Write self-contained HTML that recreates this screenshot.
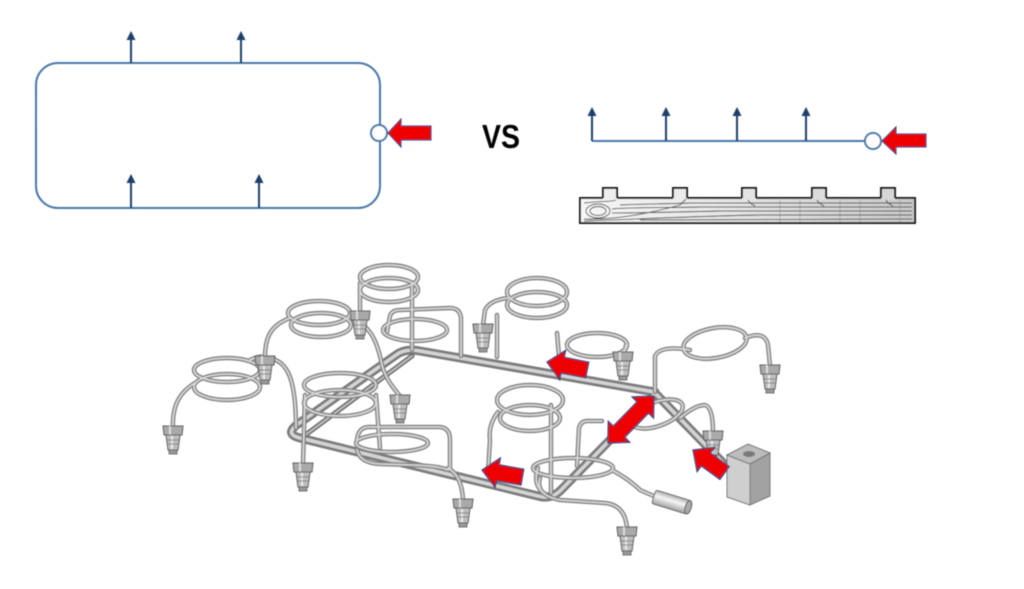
<!DOCTYPE html>
<html><head><meta charset="utf-8"><style>
html,body{margin:0;padding:0;background:#fff;}
svg{display:block;}
</style></head><body>
<svg width="1024" height="589" viewBox="0 0 1024 589" xmlns="http://www.w3.org/2000/svg">
<defs>
  <filter id="soft" x="-5%" y="-5%" width="110%" height="110%"><feGaussianBlur stdDeviation="0.6"/></filter>
  <filter id="soft2" x="-5%" y="-5%" width="110%" height="110%"><feGaussianBlur stdDeviation="0.4"/></filter>
  <linearGradient id="cs" x1="0" x2="1" y1="0" y2="0">
    <stop offset="0" stop-color="#f6f6f6"/><stop offset="0.5" stop-color="#e2e2e2"/><stop offset="1" stop-color="#c8c8c8"/>
  </linearGradient>
  <linearGradient id="cyl" x1="0" x2="0" y1="0" y2="1">
    <stop offset="0" stop-color="#b0b0b0"/><stop offset="0.4" stop-color="#f6f6f6"/><stop offset="1" stop-color="#a0a0a0"/>
  </linearGradient>
  <g id="nz">
    <polygon points="-10,0 10,0 9,9 -9,9" fill="#a9a9a9" stroke="#5a5a5a" stroke-width="1"/>
    <line x1="-3" y1="0" x2="-3" y2="9" stroke="#dcdcdc" stroke-width="2"/>
    <polygon points="-7,9 7,9 5,24 -5,24" fill="#bdbdbd" stroke="#5a5a5a" stroke-width="1"/>
    <line x1="-1" y1="10" x2="-1" y2="23" stroke="#eaeaea" stroke-width="2"/>
    <line x1="-6" y1="14" x2="6" y2="14" stroke="#777" stroke-width="0.8"/>
    <line x1="-6" y1="18" x2="6" y2="18" stroke="#777" stroke-width="0.8"/>
    <rect x="-4" y="24" width="8" height="4" fill="#999" stroke="#5a5a5a" stroke-width="0.8"/>
  </g>
  <g id="rails" fill="none" stroke-linejoin="round" stroke-linecap="round">
    <path d="M655,392 L420,351 Q405,348 396,355 L298,424 Q284,434 300,438 L538,496 Q552,500 562,489 L655,394"/>
    <path d="M657,395 L728,468"/>
  </g>
  <g id="rail2" fill="none" stroke-linecap="round">
    <path d="M412,356 L304,436"/>
  </g>
  <g id="tubes" fill="none" stroke-linecap="round" stroke-linejoin="round">
    <ellipse cx="227" cy="370" rx="33" ry="12"/>
    <ellipse cx="227" cy="387" rx="33" ry="13"/>
    <path d="M195,383 C180,392 172,405 173,428"/>
    <path d="M250,360 C258,356 263,356 265,358"/>
    <path d="M268,358 C288,360 296,380 296,428"/>
    <ellipse cx="319" cy="313" rx="31" ry="12"/>
    <ellipse cx="321" cy="325" rx="30" ry="12"/>
    <path d="M290,318 C272,325 265,335 265,358"/>
    <path d="M350,318 C372,325 378,345 382,365 C386,380 395,390 400,396"/>
    <ellipse cx="389" cy="277" rx="29" ry="12"/>
    <ellipse cx="389" cy="290" rx="29" ry="12"/>
    <path d="M360,283 L360,312"/>
    <path d="M412,285 L412,350"/>
    <ellipse cx="415" cy="330" rx="32" ry="11"/>
    <path d="M387,332 L390,316 Q392,310 400,310 L450,308 Q460,308 461,318 L461,356"/>
    <ellipse cx="340" cy="385" rx="36" ry="12"/>
    <ellipse cx="340" cy="403" rx="36" ry="13"/>
    <path d="M305,395 L303,463"/>
    <path d="M376,395 L380,448"/>
    <ellipse cx="392" cy="443" rx="36" ry="9"/>
    <path d="M357,440 Q358,428 368,427 L440,427 Q450,428 450,440 L450,468"/>
    <path d="M357,450 Q360,463 380,464 L412,465 Q440,466 448,470"/>
    <path d="M448,468 Q462,476 463,500"/>
    <ellipse cx="537" cy="292" rx="30" ry="14"/>
    <ellipse cx="537" cy="305" rx="30" ry="13"/>
    <path d="M508,298 Q490,300 485,310 L483,325"/>
    <path d="M497,315 L497,357"/>
    <ellipse cx="597" cy="345" rx="30" ry="12"/>
    <path d="M626,345 L624,354"/>
    <path d="M557,333 L559,356"/>
    <ellipse cx="530" cy="400" rx="33" ry="15"/>
    <ellipse cx="530" cy="418" rx="30" ry="13"/>
    <path d="M498,412 Q488,425 490,440 L488,472"/>
    <path d="M551,405 L551,493"/>
    <ellipse cx="715" cy="343" rx="32" ry="15" transform="rotate(-10 715 343)"/>
    <path d="M690,350 Q660,345 655,356 L655,392"/>
    <path d="M745,338 Q765,330 768,345 L770,366"/>
    <ellipse cx="657" cy="414" rx="27" ry="12" transform="rotate(-20 657 414)"/>
    <path d="M680,418 Q695,405 705,405 Q713,407 713,432"/>
    <ellipse cx="573" cy="468" rx="40" ry="10"/>
    <path d="M577,466 L579,428 Q581,420 590,421 L602,421"/>
    <path d="M612,470 Q630,480 640,490 L656,497"/>
    <path d="M540,478 Q535,495 560,500 L605,503 Q625,505 627,528"/>
    <path d="M538,468 Q532,485 545,494"/>
  </g>
</defs>

<g filter="url(#soft2)">
<rect x="36" y="63" width="344" height="145" rx="22" ry="22" fill="none" stroke="#4a78a8" stroke-width="2"/>
<g stroke="#1f3f6a" stroke-width="2" fill="#1f3f6a">
  <line x1="131" y1="63" x2="131" y2="38"/><polygon points="131,31 126.5,40 135.5,40" stroke="none"/>
  <line x1="241" y1="63" x2="241" y2="38"/><polygon points="241,31 236.5,40 245.5,40" stroke="none"/>
  <line x1="131" y1="208" x2="131" y2="181"/><polygon points="131,174 126.5,183 135.5,183" stroke="none"/>
  <line x1="259" y1="208" x2="259" y2="181"/><polygon points="259,174 254.5,183 263.5,183" stroke="none"/>
</g>
<circle cx="379" cy="133" r="8" fill="#fff" stroke="#4a78a8" stroke-width="2"/>
<polygon points="388,133 401,119 401,126 431,126 431,140 401,140 401,147" fill="#ee0000" stroke="#2a3f7a" stroke-width="1"/>

<text x="482" y="148" font-family="Liberation Sans, sans-serif" font-weight="bold" font-size="33" fill="#000" textLength="38" lengthAdjust="spacingAndGlyphs">VS</text>

<line x1="592" y1="141" x2="865" y2="141" stroke="#4a78a8" stroke-width="2"/>
<g stroke="#1f3f6a" stroke-width="2" fill="#1f3f6a">
  <line x1="592" y1="141" x2="592" y2="114"/><polygon points="592,107 587.5,116 596.5,116" stroke="none"/>
  <line x1="666" y1="141" x2="666" y2="114"/><polygon points="666,107 661.5,116 670.5,116" stroke="none"/>
  <line x1="737" y1="141" x2="737" y2="114"/><polygon points="737,107 732.5,116 741.5,116" stroke="none"/>
  <line x1="806" y1="141" x2="806" y2="114"/><polygon points="806,107 801.5,116 810.5,116" stroke="none"/>
</g>
<circle cx="873" cy="141" r="8" fill="#fff" stroke="#4a78a8" stroke-width="2"/>
<polygon points="882,141 896,127 896,134 926,134 926,147 896,147 896,154" fill="#ee0000" stroke="#2a3f7a" stroke-width="1"/>

<rect x="580" y="198" width="335" height="25" fill="url(#cs)" stroke="#1e1e1e" stroke-width="2"/>
<g>
  <rect x="603" y="188" width="14" height="12" fill="#efefef"/>
  <rect x="673" y="188" width="14" height="12" fill="#ebebeb"/>
  <rect x="742" y="188" width="14" height="12" fill="#e4e4e4"/>
  <rect x="812" y="188" width="14" height="12" fill="#dcdcdc"/>
  <rect x="881" y="188" width="14" height="12" fill="#d6d6d6"/>
</g>
<g fill="none" stroke="#1e1e1e" stroke-width="2">
  <path d="M603,198 L603,188 L617,188 L617,198"/>
  <path d="M673,198 L673,188 L687,188 L687,198"/>
  <path d="M742,198 L742,188 L756,188 L756,198"/>
  <path d="M812,198 L812,188 L826,188 L826,198"/>
  <path d="M881,198 L881,188 L895,188 L895,198"/>
</g>
<g fill="none" stroke="#444" stroke-width="0.9">
  <ellipse cx="598" cy="211" rx="8" ry="4.5"/>
  <ellipse cx="598" cy="211" rx="12" ry="7"/>
  <path d="M584,203 C600,201 612,202 616,200"/>
  <path d="M584,219 C610,220 640,216 680,205 L686,199"/>
  <path d="M612,209 C630,207 660,208 700,207 L912,207"/>
  <path d="M612,213 C640,213 680,212 720,211 L912,211"/>
  <path d="M584,221 C640,219 700,216 760,215 L912,215"/>
  <path d="M640,220 L912,219"/>
  <path d="M620,205 C640,204 660,204 690,203 L912,203"/>
  <path d="M748,200 C750,204 752,204 755,206"/>
  <path d="M817,200 C819,204 821,204 824,206"/>
  <path d="M886,200 C888,204 890,204 893,206"/>
</g>
<g stroke="#888" stroke-width="0.7" opacity="0.7">
  <line x1="780" y1="200" x2="780" y2="222"/><line x1="800" y1="200" x2="800" y2="222"/>
  <line x1="840" y1="200" x2="840" y2="222"/><line x1="860" y1="200" x2="860" y2="222"/>
  <line x1="900" y1="200" x2="900" y2="222"/>
</g>
</g>

<g filter="url(#soft)">
<use href="#rails" stroke="#7c7c7c" stroke-width="9"/>
<use href="#rails" stroke="#d4d4d4" stroke-width="3.5"/>
<use href="#rail2" stroke="#6e6e6e" stroke-width="5"/>
<use href="#rail2" stroke="#c8c8c8" stroke-width="1.6"/>
<use href="#tubes" stroke="#858585" stroke-width="4.5"/>
<use href="#tubes" stroke="#dadada" stroke-width="1.6"/>

<use href="#nz" x="173" y="426"/>
<use href="#nz" x="265" y="356"/>
<use href="#nz" x="303" y="463"/>
<use href="#nz" x="360" y="311"/>
<use href="#nz" x="400" y="395"/>
<use href="#nz" x="463" y="499"/>
<use href="#nz" x="483" y="324"/>
<use href="#nz" x="623" y="352"/>
<use href="#nz" x="770" y="365"/>
<use href="#nz" x="713" y="431"/>
<use href="#nz" x="627" y="527"/>

<polygon points="727,455 750,464 750,505 727,497" fill="#cfcfcf" stroke="#777" stroke-width="1"/>
<polygon points="750,464 770,453 770,496 750,505" fill="#a2a2a2" stroke="#777" stroke-width="1"/>
<polygon points="727,455 748,444 770,453 750,464" fill="#bcbcbc" stroke="#777" stroke-width="1"/>
<ellipse cx="749" cy="454" rx="6" ry="3" fill="#7a7a7a"/>

<g transform="rotate(17 671 502)">
  <rect x="653" y="495" width="36" height="14" rx="2" fill="url(#cyl)" stroke="#666" stroke-width="1"/>
  <ellipse cx="689" cy="502" rx="3" ry="7" fill="#aaa" stroke="#555" stroke-width="1"/>
</g>

<g fill="#ee0000" stroke="#2a3f7a" stroke-width="1.2" stroke-linejoin="miter">
  <polygon points="0,0 -16,-15 -16,-8 -41,-8 -41,8 -16,8 -16,15" transform="translate(547 362) rotate(-168.7)"/>
  <polygon points="0,0 -16,-15 -16,-8 -41,-8 -41,8 -16,8 -16,15" transform="translate(482 470) rotate(-170)"/>
  <polygon points="0,0 -16,-15 -16,-8 -39,-8 -39,8 -16,8 -16,15" transform="translate(693 450) rotate(-144)"/>
  <polygon points="0,0 -16,-15 -16,-8 -50,-8 -50,-15 -66,0 -50,15 -50,8 -16,8 -16,15" transform="translate(654 396) rotate(-45.6)"/>
</g>
</g>
</svg>
</body></html>
